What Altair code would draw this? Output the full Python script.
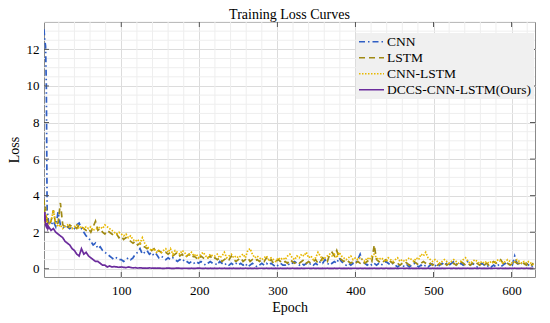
import altair as alt
import pandas as pd

names = ["CNN", "LSTM", "CNN-LSTM", "DCCS-CNN-LSTM(Ours)"]
colors = ["#2f5ec4", "#a08a14", "#e8b800", "#6b2c9c"]
dashes = [[6, 3, 1.5, 3], [6, 4], [1.5, 1.5], [1, 0]]

epochs = [1, 2, 3, 4, 5, 6, 7] + list(range(10, 631, 3))

cnn = [13.1, 12.5, 12.2, 10.0, 3.2, 2.9, 2.5,
       2.4, 2.6, 2.3, 3.1, 2.4, 2.3, 2.2, 2.3, 2.2, 2.3,
       2.2, 2.4, 2.5, 2.2, 2.0, 1.8, 1.7, 1.5, 1.3, 1.4,
       1.1, 1.2, 1.0, 0.9, 0.8, 0.7, 0.6, 0.5, 0.6, 0.5,
       0.5, 0.4, 0.5, 0.6, 0.5, 0.6, 0.8, 0.9, 1.1, 0.8,
       0.9, 1.0, 0.8, 0.9, 0.7, 0.8, 0.6, 0.7, 0.6, 0.5,
       0.6, 0.5, 0.6, 0.5, 0.4, 0.5, 0.4, 0.5, 0.4, 0.3,
       0.4, 0.3, 0.4, 0.3, 0.4, 0.3, 0.2, 0.3, 0.4, 0.3,
       0.3, 0.2, 0.4, 0.3, 0.2, 0.3, 0.2, 0.3, 0.2, 0.3,
       0.2, 0.3, 0.2, 0.3, 0.1, 0.2, 0.3, 0.2, 0.1, 0.2,
       0.3, 0.2, 0.3, 0.2, 0.3, 0.2, 0.1, 0.2, 0.3, 0.2,
       0.2, 0.3, 0.2, 0.3, 0.4, 0.3, 0.2, 0.3, 0.2, 0.3,
       0.2, 0.3, 0.2, 0.3, 0.2, 0.4, 0.3, 0.5, 0.3, 0.2,
       0.3, 0.4, 0.3, 0.6, 0.4, 0.3, 0.2, 0.3, 0.2, 0.3,
       0.3, 0.5, 0.8, 0.4, 0.3, 0.2, 0.3, 0.2, 0.3, 0.2,
       0.3, 0.2, 0.3, 0.4, 0.3, 0.2, 0.3, 0.2, 0.1, 0.2,
       0.2, 0.1, 0.2, 0.1, 0.2, 0.3, 0.2, 0.1, 0.2, 0.1,
       0.2, 0.1, 0.2, 0.3, 0.2, 0.1, 0.2, 0.3, 0.2, 0.3,
       0.2, 0.3, 0.4, 0.3, 0.2, 0.3, 0.2, 0.3, 0.4, 0.2,
       0.3, 0.2, 0.1, 0.2, 0.3, 0.2, 0.1, 0.2, 0.1, 0.2,
       0.1, 0.2, 0.1, 0.2, 0.3, 0.2, 0.3, 0.2, 0.7, 0.3,
       0.2, 0.3, 0.2, 0.3, 0.2, 0.1, 0.2]

lstm = [3.8, 3.0, 3.4, 2.6, 2.8, 2.5, 2.4,
        2.6, 3.2, 2.4, 2.5, 3.6, 2.4, 2.3, 2.2, 2.4, 2.3,
        2.3, 2.2, 2.4, 2.3, 2.2, 2.1, 2.2, 2.0, 2.3, 2.6,
        2.1, 2.2, 2.0, 1.9, 2.1, 2.0, 1.9, 1.8, 1.9, 1.7,
        1.8, 1.6, 1.7, 1.6, 1.5, 1.4, 1.5, 1.3, 1.4, 1.2,
        1.2, 1.1, 1.2, 1.0, 1.1, 0.9, 1.0, 0.9, 0.8, 0.9,
        0.8, 0.9, 0.7, 0.8, 0.9, 0.7, 0.8, 0.6, 0.7, 0.8,
        0.6, 0.7, 0.6, 0.5, 0.7, 0.6, 0.5, 0.6, 0.7, 0.5,
        0.6, 0.5, 0.6, 0.4, 0.5, 0.6, 0.5, 0.7, 0.5, 0.4,
        0.5, 0.6, 0.4, 0.5, 0.6, 0.4, 0.5, 0.4, 0.5, 0.4,
        0.5, 0.4, 0.6, 0.4, 0.5, 0.3, 0.4, 0.5, 0.4, 0.3,
        0.4, 0.3, 0.5, 0.4, 0.3, 0.4, 0.3, 0.4, 0.5, 0.3,
        0.4, 0.3, 0.4, 0.5, 0.3, 0.4, 0.6, 0.5, 0.4, 0.8,
        0.9, 0.7, 1.0, 0.6, 0.5, 0.4, 0.5, 0.4, 0.3, 0.4,
        0.3, 0.4, 0.3, 0.4, 0.3, 0.4, 0.5, 0.4, 1.3, 0.5,
        0.4, 0.3, 0.4, 0.5, 0.3, 0.4, 0.3, 0.4, 0.3, 0.2,
        0.3, 0.4, 0.3, 0.2, 0.3, 0.4, 0.3, 0.2, 0.3, 0.4,
        0.3, 0.2, 0.3, 0.2, 0.3, 0.2, 0.3, 0.2, 0.3, 0.2,
        0.3, 0.2, 0.3, 0.2, 0.3, 0.4, 0.3, 0.2, 0.3, 0.2,
        0.3, 0.2, 0.3, 0.2, 0.3, 0.2, 0.3, 0.2, 0.3, 0.4,
        0.3, 0.4, 0.5, 0.3, 0.2, 0.3, 0.2, 0.3, 0.4, 0.3,
        0.3, 0.2, 0.3, 0.2, 0.3, 0.2, 0.3]

cnn_lstm = [2.5, 2.7, 2.4, 3.0, 2.6, 2.3, 2.4,
            2.6, 3.2, 2.5, 2.3, 2.4, 2.2, 2.3, 2.4, 2.3, 2.2,
            2.3, 2.4, 2.2, 2.3, 2.2, 2.3, 2.2, 2.3, 2.1, 2.2,
            2.2, 2.3, 2.2, 2.4, 2.3, 2.2, 2.1, 2.0, 1.9, 2.0,
            1.9, 1.8, 1.9, 1.7, 1.8, 1.6, 1.5, 1.6, 1.4, 1.7,
            1.4, 1.2, 1.1, 1.0, 1.1, 0.9, 1.0, 0.9, 1.0, 1.1,
            0.9, 1.1, 0.8, 1.0, 0.9, 0.8, 1.0, 0.9, 0.7, 0.8,
            0.9, 0.7, 0.8, 0.6, 0.8, 0.9, 0.7, 0.6, 0.8, 0.7,
            0.7, 0.8, 0.6, 0.7, 0.9, 0.6, 0.7, 0.8, 0.6, 0.7,
            0.6, 0.7, 0.8, 0.6, 1.0, 1.1, 0.8, 0.6, 0.7, 0.6,
            0.5, 0.6, 0.7, 0.5, 0.6, 0.5, 0.4, 0.6, 0.5, 0.6,
            0.5, 0.7, 0.8, 0.6, 0.5, 0.7, 0.6, 0.8, 0.7, 0.9,
            0.6, 0.7, 0.5, 0.6, 0.9, 0.7, 0.5, 0.6, 0.7, 0.8,
            0.7, 0.8, 0.6, 0.9, 0.7, 0.6, 0.5, 0.6, 0.7, 0.5,
            0.6, 0.5, 0.6, 0.5, 0.4, 0.6, 0.5, 0.7, 0.8, 0.6,
            0.5, 0.6, 0.5, 0.4, 0.6, 0.5, 0.4, 0.5, 0.6, 0.4,
            0.5, 0.4, 0.5, 0.6, 0.5, 0.4, 0.6, 0.5, 0.8, 0.7,
            0.9, 0.6, 0.5, 0.4, 0.5, 0.4, 0.3, 0.4, 0.5, 0.4,
            0.3, 0.4, 0.5, 0.4, 0.3, 0.4, 0.5, 0.6, 0.4, 0.3,
            0.4, 0.5, 0.4, 0.3, 0.4, 0.3, 0.4, 0.3, 0.4, 0.3,
            0.4, 0.5, 0.4, 0.3, 0.4, 0.5, 0.4, 0.3, 0.4, 0.5,
            0.4, 0.3, 0.4, 0.3, 0.4, 0.3, 0.2]

dccs = [2.6, 3.1, 2.4, 2.3, 2.5, 2.2, 2.3,
        2.1, 2.2, 2.0, 1.9, 1.8, 1.7, 1.5, 1.4, 1.3, 1.1,
        1.0, 0.8, 0.7, 1.1, 0.8, 0.9, 0.7, 0.6, 0.5, 0.4,
        0.4, 0.3, 0.2, 0.2, 0.1, 0.15, 0.1, 0.12, 0.1, 0.08,
        0.1, 0.08, 0.06, 0.1, 0.07, 0.05, 0.06, 0.04, 0.05, 0.04,
        0.04, 0.03, 0.05, 0.03, 0.04, 0.03, 0.04, 0.03, 0.02, 0.03,
        0.04, 0.03, 0.02, 0.03, 0.04, 0.03, 0.02, 0.03, 0.03, 0.02,
        0.03, 0.02, 0.03, 0.04, 0.03, 0.02, 0.03, 0.02, 0.03, 0.02,
        0.03, 0.02, 0.03, 0.02, 0.03, 0.02, 0.03, 0.02, 0.03, 0.02,
        0.02, 0.03, 0.02, 0.03, 0.02, 0.03, 0.02, 0.03, 0.02, 0.03,
        0.03, 0.02, 0.03, 0.02, 0.03, 0.02, 0.03, 0.02, 0.03, 0.02,
        0.02, 0.03, 0.02, 0.03, 0.02, 0.03, 0.02, 0.03, 0.02, 0.03,
        0.03, 0.02, 0.03, 0.02, 0.03, 0.02, 0.03, 0.02, 0.03, 0.02,
        0.02, 0.03, 0.02, 0.03, 0.02, 0.03, 0.02, 0.03, 0.02, 0.03,
        0.03, 0.02, 0.03, 0.02, 0.03, 0.02, 0.03, 0.02, 0.03, 0.02,
        0.02, 0.03, 0.02, 0.03, 0.02, 0.03, 0.02, 0.03, 0.02, 0.03,
        0.03, 0.02, 0.03, 0.02, 0.03, 0.02, 0.03, 0.02, 0.03, 0.02,
        0.02, 0.03, 0.02, 0.03, 0.02, 0.03, 0.02, 0.03, 0.02, 0.03,
        0.03, 0.02, 0.03, 0.02, 0.03, 0.02, 0.03, 0.02, 0.03, 0.02,
        0.02, 0.03, 0.02, 0.03, 0.02, 0.03, 0.02, 0.03, 0.02, 0.03,
        0.03, 0.02, 0.03, 0.02, 0.03, 0.02, 0.03, 0.02, 0.03, 0.02,
        0.02, 0.03, 0.02, 0.03, 0.02, 0.03, 0.02]

x_ticks = [100, 200, 300, 400, 500, 600]
y_ticks = [0, 2, 4, 6, 8, 10, 12]
x_minor = [v for v in range(20, 621, 20) if v % 100 != 0]
y_minor = [v / 2 for v in range(0, 28) if v % 4 != 0]

rows = []
for name, vals in zip(names, [cnn, lstm, cnn_lstm, dccs]):
    for e, v in zip(epochs, vals):
        rows.append({"epoch": e, "loss": v, "model": name})
df = pd.DataFrame(rows)

W, H = 491, 255
FONT = "Liberation Serif"
x_scale = alt.Scale(domain=[1, 630], nice=False, zero=False)
y_scale = alt.Scale(domain=[-0.45, 13.5], nice=False, zero=False)

x_axis = alt.Axis(values=x_ticks, tickSize=0, domain=False, labelOverlap=False,
                  labelFlush=False, gridColor="#dcdcdc", labelPadding=7, titlePadding=3,
                  labelFont=FONT, labelFontSize=13, labelColor="black",
                  titleFont=FONT, titleFontSize=14, titleColor="black", titleFontWeight="normal")
y_axis = alt.Axis(values=y_ticks, tickSize=0, domain=False, labelOverlap=False,
                  labelFlush=False, gridColor="#dcdcdc", labelPadding=5, titlePadding=5,
                  labelFont=FONT, labelFontSize=13, labelColor="black",
                  titleFont=FONT, titleFontSize=14, titleColor="black", titleFontWeight="normal")

minor_color = "#eeeeee"
gx = alt.Chart(pd.DataFrame({"epoch": x_minor})).mark_rule(color=minor_color, strokeWidth=1).encode(
    x=alt.X("epoch:Q", scale=x_scale, axis=x_axis, title="Epoch"))
gy = alt.Chart(pd.DataFrame({"loss": y_minor})).mark_rule(color=minor_color, strokeWidth=1).encode(
    y=alt.Y("loss:Q", scale=y_scale, axis=y_axis, title="Loss"))

lines = alt.Chart(df).mark_line(strokeWidth=1.7, clip=True).encode(
    x=alt.X("epoch:Q", scale=x_scale, axis=x_axis, title="Epoch"),
    y=alt.Y("loss:Q", scale=y_scale, axis=y_axis, title="Loss"),
    color=alt.Color("model:N", scale=alt.Scale(domain=names, range=colors),
                    legend=alt.Legend(title=None, orient="none", legendX=312, legendY=11,
                                      fillColor="#f0f0f0", padding=2, symbolType="stroke",
                                      symbolSize=625, symbolStrokeWidth=1.7, clipHeight=13.5,
                                      labelFont=FONT, labelFontSize=13.5, labelColor="black",
                                      labelOffset=2, rowPadding=1)),
    strokeDash=alt.StrokeDash("model:N", scale=alt.Scale(domain=names, range=dashes)),
)

tick_color = "#555555"
xt = pd.DataFrame({"epoch": x_ticks})
yt = pd.DataFrame({"loss": y_ticks})
bottom = alt.Chart(xt).mark_rule(color=tick_color, strokeWidth=1).encode(
    x=alt.X("epoch:Q", scale=x_scale, axis=x_axis, title="Epoch"), y=alt.value(H), y2=alt.value(H - 5))
top = alt.Chart(xt).mark_rule(color=tick_color, strokeWidth=1).encode(
    x=alt.X("epoch:Q", scale=x_scale, axis=x_axis, title="Epoch"), y=alt.value(0), y2=alt.value(5))
left = alt.Chart(yt).mark_rule(color=tick_color, strokeWidth=1).encode(
    y=alt.Y("loss:Q", scale=y_scale, axis=y_axis, title="Loss"), x=alt.value(0), x2=alt.value(5))
right = alt.Chart(yt).mark_rule(color=tick_color, strokeWidth=1).encode(
    y=alt.Y("loss:Q", scale=y_scale, axis=y_axis, title="Loss"), x=alt.value(W), x2=alt.value(W - 5))

chart = alt.layer(gx, gy, lines, bottom, top, left, right).properties(
    width=W, height=H,
    title=alt.Title("Training Loss Curves", font=FONT, fontSize=14, fontWeight="normal",
                    color="black", anchor="middle", frame="group", offset=0),
    autosize=alt.AutoSizeParams(type="none"),
    padding={"left": 36, "top": 14, "right": 6, "bottom": 45},
).configure_view(stroke="#8a8a8a", strokeWidth=1).configure_axis(
    labelFont=FONT, labelFontSize=13, labelColor="black", labelOverlap=False,
    titleFont=FONT, titleFontSize=14, titleColor="black", titleFontWeight="normal",
)

chart.save("out.html", embed_options={"renderer": "svg", "actions": False})
